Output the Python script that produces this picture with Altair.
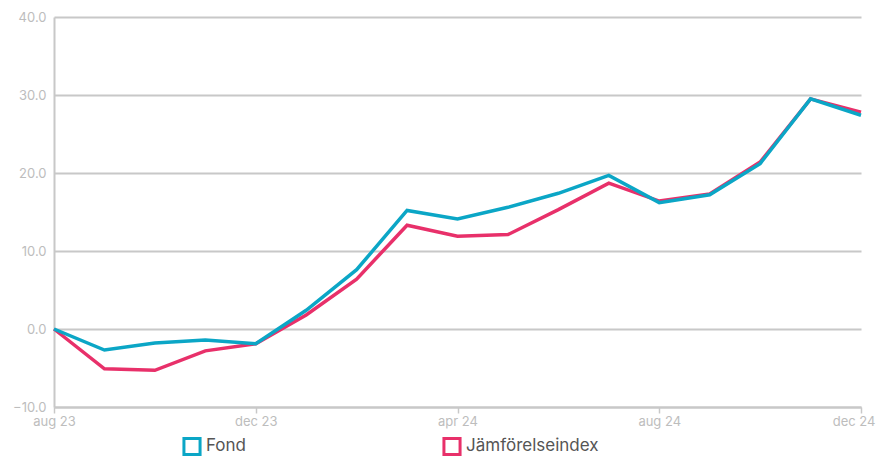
import altair as alt
import pandas as pd

months = ["aug 23", "sep 23", "okt 23", "nov 23", "dec 23", "jan 24", "feb 24", "mar 24",
          "apr 24", "maj 24", "jun 24", "jul 24", "aug 24", "sep 24", "okt 24", "nov 24", "dec 24"]
fond = [0.0, -2.7, -1.8, -1.4, -1.9, 2.4, 7.6, 15.2, 14.1, 15.6, 17.4, 19.7, 16.2, 17.2, 21.2, 29.5, 27.4]
index = [0.0, -5.1, -5.3, -2.8, -1.9, 1.8, 6.4, 13.3, 11.9, 12.1, 15.3, 18.7, 16.4, 17.3, 21.4, 29.5, 27.8]
series = ["Fond", "Jämförelseindex"]
colors = ["#0ba6c6", "#e8306a"]
tick_labels = ["aug 23", "dec 23", "apr 24", "aug 24", "dec 24"]
y_ticks = [-10, 0, 10, 20, 30, 40]

rows = []
for m, f, i in zip(months, fond, index):
    rows.append({"month": m, "serie": series[0], "value": f})
    rows.append({"month": m, "serie": series[1], "value": i})
df = pd.DataFrame(rows)

FONT = "Inter"
last = tick_labels[-1]

x = alt.X("month:O", sort=months, scale=alt.Scale(type="point", padding=0),
          axis=alt.Axis(values=tick_labels, title=None, labelAngle=0, labelColor="#bdbdbd",
                        labelFontSize=13, labelFont=FONT, domainColor="#c8c8c8", domainWidth=2,
                        tickColor="#c8c8c8", tickWidth=1.5, tickSize=6, labelPadding=2, grid=False,
                        labelAlign=alt.expr(f"datum.value == '{last}' ? 'right' : 'center'"),
                        labelOffset=alt.expr(f"datum.value == '{last}' ? 14 : 0")))
y = alt.Y("value:Q", scale=alt.Scale(domain=[-10, 40], nice=False),
          axis=alt.Axis(values=y_ticks, format=".1f", title=None, labelColor="#bdbdbd",
                        labelFontSize=13, labelFont=FONT, domainColor="#c8c8c8", domainWidth=2,
                        ticks=False, labelPadding=8, gridColor="#c8c8c8", gridWidth=2))
color = alt.Color("serie:N", scale=alt.Scale(domain=series, range=colors),
                  legend=alt.Legend(title=None, orient="none", legendX=128, legendY=419,
                                    direction="horizontal", columns=2, columnPadding=190,
                                    symbolType="square", symbolSize=260, symbolStrokeWidth=3,
                                    symbolFillColor="white", labelFontSize=17, labelFont=FONT,
                                    labelColor="#555555", labelOffset=4))

base = alt.Chart(df)
pink = base.transform_filter(alt.datum.serie == series[1]).mark_line(strokeWidth=3.5).encode(x=x, y=y, color=color)
teal = base.transform_filter(alt.datum.serie == series[0]).mark_line(strokeWidth=3.5).encode(x=x, y=y, color=color)

chart = alt.layer(pink, teal).properties(
    width=807, height=390,
    autosize=alt.AutoSizeParams(type="none"),
    padding={"left": 46, "top": 9, "right": 15, "bottom": 50},
).configure_view(stroke=None)

chart.save("out.html", embed_options={"renderer": "svg", "actions": False})
